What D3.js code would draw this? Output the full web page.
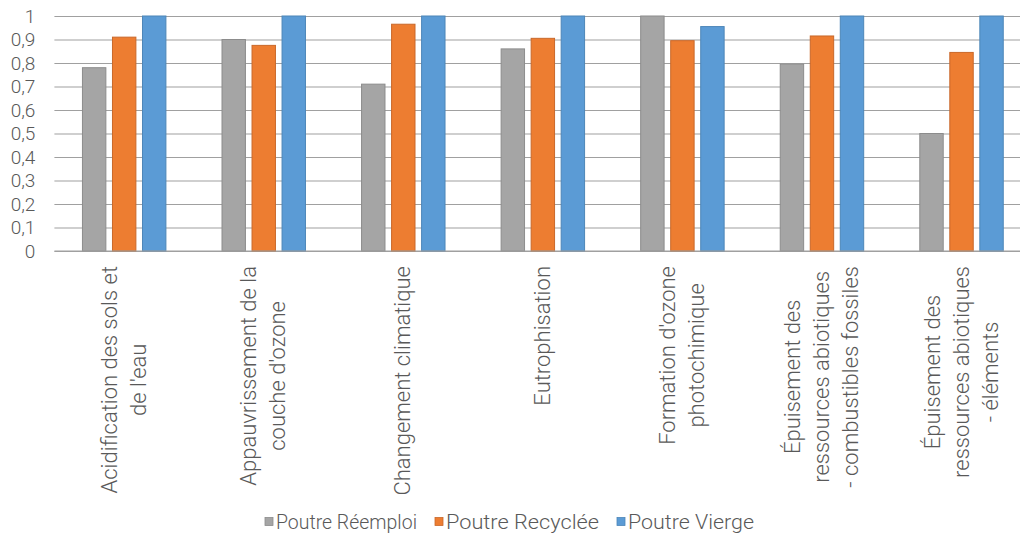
<!DOCTYPE html>
<html>
<head>
<meta charset="utf-8">
<script src="https://cdn.jsdelivr.net/npm/d3@7"></script>
<style>
  html, body { margin: 0; padding: 0; background: #fff; }
  svg { display: block; }
  text { font-family: Roboto, "Noto Sans", sans-serif; fill: #595959; font-weight: 300; }
</style>
</head>
<body>
<svg id="chart" width="1020" height="538"></svg>
<script>
const categories = [
  "Acidification des sols et de l'eau",
  "Appauvrissement de la couche d'ozone",
  "Changement climatique",
  "Eutrophisation",
  "Formation d'ozone photochimique",
  "Épuisement des ressources abiotiques - combustibles fossiles",
  "Épuisement des ressources abiotiques - éléments"
];
const categoryLines = [
  ["Acidification des sols et", "de l'eau"],
  ["Appauvrissement de la", "couche d'ozone"],
  ["Changement climatique"],
  ["Eutrophisation"],
  ["Formation d'ozone", "photochimique"],
  ["Épuisement des", "ressources abiotiques", "- combustibles fossiles"],
  ["Épuisement des", "ressources abiotiques", "- éléments"]
];
const seriesNames = ["Poutre Réemploi", "Poutre Recyclée", "Poutre Vierge"];
const reemploi = [0.78, 0.90, 0.71, 0.86, 1.00, 0.795, 0.50];
const recyclee = [0.91, 0.875, 0.965, 0.905, 0.895, 0.915, 0.845];
const vierge   = [1.00, 1.00, 1.00, 1.00, 0.955, 1.00, 1.00];
const seriesColors = ["#A5A5A5", "#ED7D31", "#5B9BD5"];
const seriesStrokes = ["#8c8c8c", "#c9682a", "#4d86b8"];
const yTicks = [0, 0.1, 0.2, 0.3, 0.4, 0.5, 0.6, 0.7, 0.8, 0.9, 1];

const seriesValues = [reemploi, recyclee, vierge];

const svg = d3.select("#chart");
const plot = { left: 54.4, right: 1031.3, top: 16, bottom: 251 };

const x0 = d3.scaleBand()
  .domain(categories)
  .range([plot.left, plot.right])
  .paddingInner(0.402)
  .paddingOuter(0.201);

const x1 = d3.scaleBand()
  .domain(seriesNames)
  .range([0, x0.bandwidth()])
  .paddingInner(0.22)
  .paddingOuter(0);

const y = d3.scaleLinear().domain([0, 1]).range([plot.bottom, plot.top]);

// Gridlines + tick labels
const fmt = v => d3.format(".1~f")(v).replace(".", ",");
const yAxis = d3.axisLeft(y)
  .tickValues(yTicks)
  .tickSize(-(plot.right - plot.left))
  .tickPadding(19)
  .tickFormat(fmt);

const gy = svg.append("g")
  .attr("transform", `translate(${plot.left},0)`)
  .call(yAxis);
gy.select(".domain").remove();
gy.selectAll(".tick line").attr("stroke", "#a0a0a0").attr("stroke-width", 1.2);
gy.selectAll(".tick text")
  .attr("font-size", 19)
  .style("font-family", "Roboto, sans-serif")
  .style("font-weight", 300)
  .attr("fill", "#595959");

// Bars
const groups = svg.append("g").selectAll("g")
  .data(categories)
  .join("g")
  .attr("transform", d => `translate(${x0(d)},0)`);

groups.selectAll("rect")
  .data((d, i) => seriesNames.map((s, j) => ({ s, j, v: seriesValues[j][i] })))
  .join("rect")
  .attr("x", d => x1(d.s))
  .attr("width", x1.bandwidth())
  .attr("y", d => y(d.v))
  .attr("height", d => y(0) - y(d.v))
  .attr("fill", d => seriesColors[d.j])
  .attr("stroke", d => seriesStrokes[d.j])
  .attr("stroke-width", 1);

// Axis baseline
svg.append("line")
  .attr("x1", plot.left).attr("x2", plot.right)
  .attr("y1", y(0)).attr("y2", y(0))
  .attr("stroke", "#a0a0a0").attr("stroke-width", 1.2);

// Category labels (rotated)
const lineH = 29;
const labelTop = 266;
categories.forEach((c, i) => {
  const lines = categoryLines[i];
  const cx = x0(c) + x0.bandwidth() / 2;
  const g = svg.append("g").attr("transform", `translate(${cx},${labelTop}) rotate(-90)`);
  const texts = lines.map((ln, k) => g.append("text")
    .attr("font-size", 22)
    .attr("text-anchor", "middle")
    .attr("y", (k - (lines.length - 1) / 2) * lineH + 7)
    .text(ln));
  const maxLen = d3.max(texts, t => t.node().getComputedTextLength());
  texts.forEach(t => t.attr("x", -maxLen / 2));
});

// Legend
const legendTextLen = [141, 153, 126];
const legendStart = 265;
const legendGap = 18;
const legend = svg.append("g");
let lx = legendStart;
seriesNames.forEach((s, j) => {
  legend.append("rect")
    .attr("x", lx).attr("y", 517.5)
    .attr("width", 8).attr("height", 8)
    .attr("fill", seriesColors[j])
    .attr("stroke", seriesStrokes[j]).attr("stroke-width", 0.8);
  legend.append("text")
    .attr("x", lx + 11).attr("y", 529)
    .attr("font-size", 19.5)
    .attr("textLength", legendTextLen[j])
    .attr("lengthAdjust", "spacingAndGlyphs")
    .text(s);
  lx += 11 + legendTextLen[j] + legendGap;
});
</script>
</body>
</html>
